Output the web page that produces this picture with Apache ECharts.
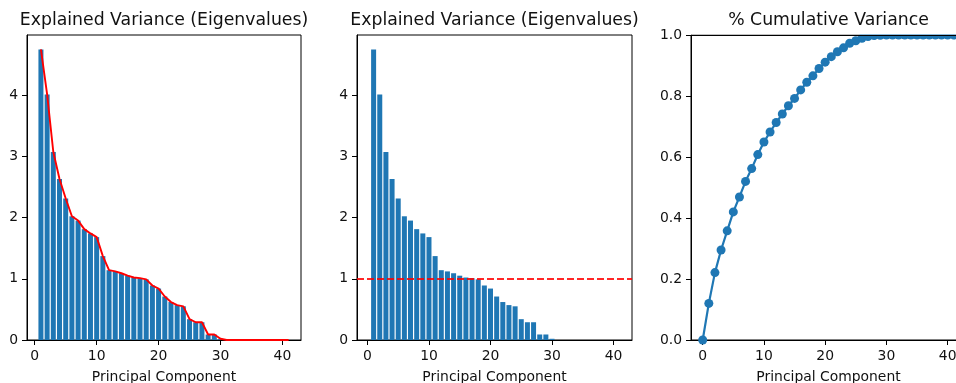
<!DOCTYPE html>
<html>
<head>
<meta charset="utf-8">
<script src="https://cdn.jsdelivr.net/npm/echarts@6/dist/echarts.min.js"></script>
<style>html,body{margin:0;padding:0;background:#fff}#c{width:956px;height:383px}</style>
</head>
<body>
<div id="c"></div>
<script>
const components = [1,2,3,4,5,6,7,8,9,10,11,12,13,14,15,16,17,18,19,20,21,22,23,24,25,26,27,28,29,30,31,32,33,34,35,36,37,38,39,40,41];
const eigenvalues = [4.745,4.01,3.07,2.63,2.31,2.02,1.95,1.81,1.74,1.68,1.37,1.14,1.12,1.09,1.05,1.02,1.01,0.99,0.89,0.84,0.71,0.62,0.57,0.55,0.34,0.29,0.29,0.09,0.09,0.02,0,0,0,0,0,0,0,0,0,0,0];
const cumComponents = [0,1,2,3,4,5,6,7,8,9,10,11,12,13,14,15,16,17,18,19,20,21,22,23,24,25,26,27,28,29,30,31,32,33,34,35,36,37,38,39,40,41];
const cumVariance = [0,0.120,0.221,0.295,0.358,0.420,0.469,0.520,0.562,0.608,0.649,0.682,0.713,0.741,0.768,0.792,0.820,0.845,0.866,0.890,0.911,0.929,0.945,0.958,0.973,0.981,0.989,0.995,0.998,0.999,1.0,1.0,1.0,1.0,1.0,1.0,1.0,1.0,1.0,1.0,1.0,1.0];
const kaiserThreshold = 1;
const titles = ['Explained Variance (Eigenvalues)','Explained Variance (Eigenvalues)','% Cumulative Variance'];
const xLabel = 'Principal Component';
const xTicks = [0,10,20,30,40];
const eigTicks = [0,1,2,3,4];
const cumTicks = [0,0.2,0.4,0.6,0.8,1.0];

const FONT = 'DejaVu Sans';
const TXT = '#111';
const BLUE = '#1f77b4';

const grids = [
  {left:27, top:35, width:274, height:305},
  {left:357, top:35, width:275, height:305},
  {left:691, top:35, width:275, height:305}
];
const xRanges = [[-1.25,43.0],[-1.7,43.0],[-1.91,43.0]];

function xAxis(i){
  return {
    type:'value', gridIndex:i, min:xRanges[i][0], max:xRanges[i][1],
    name:xLabel, nameLocation:'middle', nameGap:30,
    nameTextStyle:{fontFamily:FONT, fontSize:13.9, color:TXT},
    axisLine:{show:true, onZero:false, lineStyle:{color:'#000', width:1}},
    axisTick:{show:true, length:5, lineStyle:{color:'#000'}, customValues:xTicks},
    axisLabel:{fontFamily:FONT, fontSize:13.9, color:TXT, margin:9, customValues:xTicks},
    splitLine:{show:false}
  };
}
function yAxis(i, max, ticks, fmt){
  return {
    type:'value', gridIndex:i, min:0, max:max,
    axisLine:{show:true, onZero:false, lineStyle:{color:'#000', width:1}},
    axisTick:{show:true, length:5, lineStyle:{color:'#000'}, customValues:ticks},
    axisLabel:{fontFamily:FONT, fontSize:13.9, color:TXT, margin:9, customValues:ticks, formatter:fmt},
    splitLine:{show:false}
  };
}

const eigPairs = components.map((c,k)=>[c, eigenvalues[k]]);
const cumPairs = cumComponents.map((c,k)=>[c, cumVariance[k]]);
const eigMax = 4.98;

const g3 = grids[2];
const option = {
  animation:false,
  backgroundColor:'#fff',
  title: titles.map((t,i)=>({
    text:t, left:grids[i].left + grids[i].width/2, top:12, padding:0, textAlign:'center',
    textStyle:{fontFamily:FONT, fontSize:17.3, fontWeight:'normal', color:TXT}
  })),
  grid: grids.map(g=>Object.assign({show:true, borderColor:'#000', borderWidth:1, containLabel:false, outerBoundsMode:'none'}, g)),
  xAxis:[xAxis(0), xAxis(1), xAxis(2)],
  yAxis:[
    yAxis(0, eigMax, eigTicks, v=>String(Math.round(v))),
    yAxis(1, eigMax, eigTicks, v=>String(Math.round(v))),
    yAxis(2, 1.0, cumTicks, v=>v.toFixed(1))
  ],
  graphic:[
    {type:'rect', z:100, silent:true, shape:{x:g3.left-0.5, y:30, width:956-g3.left+1, height:4.5}, style:{fill:'#fff'}},
    {type:'line', z:101, silent:true, shape:{x1:g3.left, y1:35.5, x2:956, y2:35.5}, style:{stroke:'#000', lineWidth:1}}
  ],
  series:[
    {type:'bar', xAxisIndex:0, yAxisIndex:0, data:eigPairs, barWidth:5, itemStyle:{color:BLUE}, z:2},
    {type:'line', xAxisIndex:0, yAxisIndex:0, data:eigPairs, symbol:'none', lineStyle:{color:'#ff0000', width:1.9}, z:3},
    {type:'bar', xAxisIndex:1, yAxisIndex:1, data:eigPairs, barWidth:5, itemStyle:{color:BLUE}, z:2,
      markLine:{silent:true, symbol:'none', label:{show:false},
        lineStyle:{color:'#ff0000', type:[7,3], width:2, opacity:0.85},
        data:[{yAxis:kaiserThreshold}]}},
    {type:'line', xAxisIndex:2, yAxisIndex:2, data:cumPairs, symbol:'circle', symbolSize:9,
      itemStyle:{color:BLUE}, lineStyle:{color:BLUE, width:2.2}, z:3}
  ]
};
const chart = echarts.init(document.getElementById('c'), null, {renderer:'canvas'});
chart.setOption(option);
</script>
</body>
</html>
